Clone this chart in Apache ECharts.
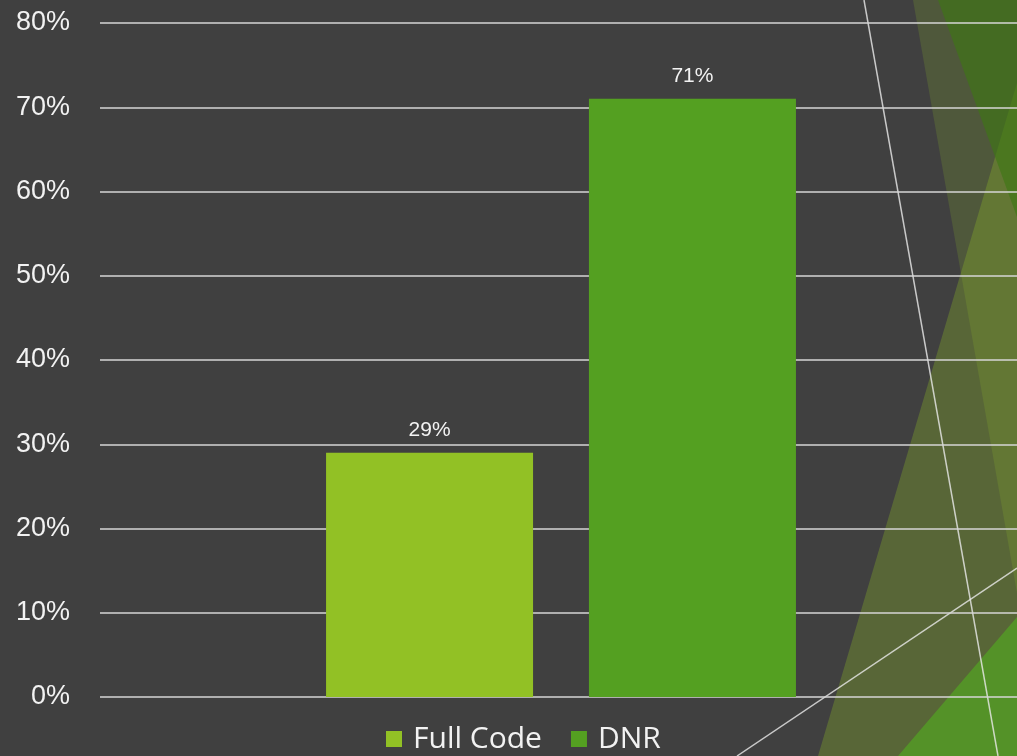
<!DOCTYPE html>
<html>
<head>
<meta charset="utf-8">
<script src="https://cdn.jsdelivr.net/npm/echarts@6/dist/echarts.min.js"></script>
<style>
  html, body { margin: 0; padding: 0; background: #404040; }
  #chart { width: 1017px; height: 756px; }
</style>
</head>
<body>
<div id="chart"></div>
<script>
// Share of patients by code status
const groups = [''];
const seriesNames = ['Full Code', 'DNR'];
const percentValues = [29, 71];
const seriesColors = ['#92c125', '#54a021'];

const labelFont = "'Liberation Sans', Arial, sans-serif";

// Decorative slanted panels and hairlines on the right-hand side
const decoration = [
  { type: 'polygon', z: -5, shape: { points: [[913, 0], [1017, 0], [1017, 593]] }, style: { fill: 'rgba(146,193,37,0.19)' } },
  { type: 'polygon', z: -4, shape: { points: [[1017, 83], [818, 756], [1017, 756]] }, style: { fill: 'rgba(146,193,37,0.30)' } },
  { type: 'polygon', z: -3, shape: { points: [[938, 0], [1017, 0], [1017, 217]] }, style: { fill: 'rgba(62,120,20,0.62)' } },
  { type: 'polygon', z: -2, shape: { points: [[1017, 617], [898, 756], [1017, 756]] }, style: { fill: '#549228' } },
  { type: 'line', z: -1, shape: { x1: 864, y1: 0, x2: 998, y2: 756 }, style: { stroke: 'rgba(235,235,235,0.8)', lineWidth: 1.5 } },
  { type: 'line', z: -1, shape: { x1: 737, y1: 756, x2: 1017, y2: 568 }, style: { stroke: 'rgba(235,235,235,0.8)', lineWidth: 1.5 } }
];

const chart = echarts.init(document.getElementById('chart'), null, { renderer: 'canvas' });

chart.setOption({
  backgroundColor: '#404040',
  animation: false,
  graphic: { elements: decoration },
  grid: { left: 100, right: -5, top: 23, bottom: 59, containLabel: false, outerBoundsMode: 'none' },
  legend: {
    data: seriesNames,
    left: 386,
    top: 724,
    padding: 0,
    itemWidth: 16,
    itemHeight: 16,
    itemGap: 29,
    icon: 'rect',
    textStyle: {
      color: '#f2f2f2',
      fontFamily: "'Open Sans', sans-serif",
      fontSize: 30,
      lineHeight: 30,
      padding: [0, 0, 0, 6]
    }
  },
  xAxis: {
    type: 'category',
    data: groups,
    axisLine: { show: false },
    axisTick: { show: false },
    axisLabel: { show: false },
    splitLine: { show: false }
  },
  yAxis: {
    type: 'value',
    min: 0,
    max: 80,
    interval: 10,
    axisLine: { show: false },
    axisTick: { show: false },
    axisLabel: {
      formatter: '{value}%',
      color: '#f2f2f2',
      fontFamily: labelFont,
      fontSize: 27,
      margin: 30
    },
    splitLine: { show: true, lineStyle: { color: '#d6d6d6', width: 1.5 } }
  },
  series: seriesNames.map((name, i) => ({
    name: name,
    type: 'bar',
    data: [percentValues[i]],
    barWidth: 207,
    barGap: '27%',
    itemStyle: { color: seriesColors[i] },
    label: {
      show: true,
      position: 'top',
      distance: 12,
      formatter: '{c}%',
      color: '#f2f2f2',
      fontFamily: labelFont,
      fontSize: 21
    }
  }))
});
</script>
</body>
</html>
